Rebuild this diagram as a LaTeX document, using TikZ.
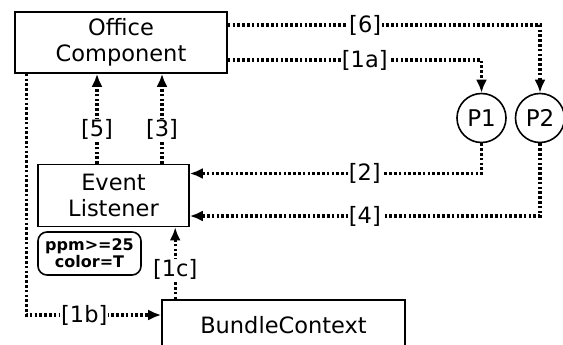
\documentclass[tikz,border=0pt]{standalone}
\usepackage{fontspec}
\setmainfont{DejaVu Sans}
\usepackage{tikz}
\usetikzlibrary{arrows.meta,positioning,calc}

\tikzset{
  box/.style={draw, line width=1.6pt, align=center, inner sep=0pt, font=\fontsize{22.5}{25.5}\selectfont},
  cond/.style={draw, line width=1.6pt, rounded corners=9pt, align=center, inner sep=0pt, font=\fontsize{16}{17}\selectfont\bfseries},
  proc/.style={draw, circle, line width=1.6pt, minimum size=49pt, inner sep=0pt, font=\fontsize{23}{25}\selectfont},
  flow/.style={line width=3.4pt, dash pattern=on 2.6pt off 2.2pt, -{Latex[length=13pt,width=11pt]}},
  lbl/.style={fill=white, inner sep=1pt, font=\fontsize{22.5}{25}\selectfont}
}

\begin{document}
\begin{tikzpicture}[x=1pt,y=-1pt]
    \useasboundingbox (0,0) rectangle (563,345);

    % nodes
    \node[box, minimum width=212pt, minimum height=61pt] (office) at (121,42.5) {Office\\Component};
    \node[box, minimum width=151pt, minimum height=62pt] (event) at (113.5,195.5) {Event\\Listener};
    \node[cond, minimum width=103pt, minimum height=43pt] (filter) at (89.5,253.5) {ppm>=25\\color=T};
    \node[box, minimum width=243pt, minimum height=50pt] (bundle) at (283.5,325) {BundleContext};
    \node[proc] (p1) at (481.5,118) {P1};
    \node[proc] (p2) at (540,118) {P2};

    % connectors
    \draw[flow] ([yshift=17.5pt]office.east) -| node[lbl, pos=0.22] {[6]} (p2.north);
    \draw[flow] ([yshift=-17.5pt]office.east) -| node[lbl, pos=0.27] {[1a]} (p1.north);
    \draw[flow] (p1.south) |- node[lbl, pos=0.70] {[2]} ([yshift=22pt]event.east);
    \draw[flow] (p2.south) |- node[lbl, pos=0.75] {[4]} ([yshift=-20.5pt]event.east);
    \draw[flow] ([xshift=-16.5pt]event.north) coordinate (e5) -- node[lbl, pos=0.38] {[5]} (e5 |- office.south);
    \draw[flow] ([xshift=48.5pt]event.north) coordinate (e3) -- node[lbl, pos=0.38] {[3]} (e3 |- office.south);
    \draw[flow] ([xshift=12pt]office.south west) |- node[lbl, pos=0.715] {[1b]} ([yshift=10pt]bundle.west);
    \draw[flow] ([xshift=14pt]bundle.north west) coordinate (b1) -- node[lbl, pos=0.41] {[1c]} (b1 |- event.south);
\end{tikzpicture}
\end{document}
